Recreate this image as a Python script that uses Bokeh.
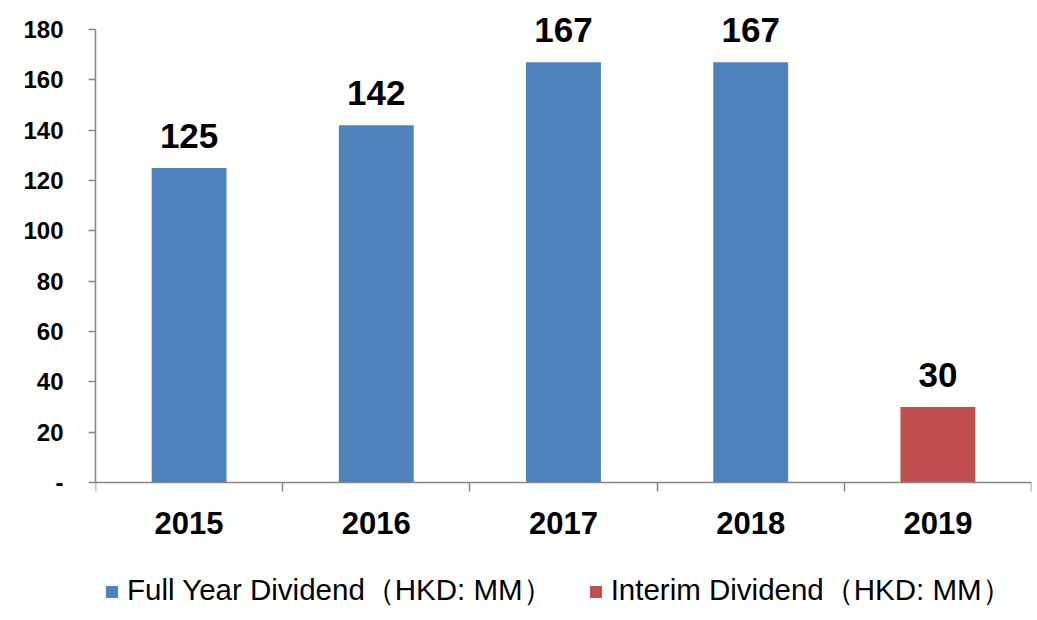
from bokeh.plotting import figure
from bokeh.models import (ColumnDataSource, FixedTicker, LabelSet, Legend, LegendItem, Range1d)
from bokeh.core.properties import value
from bokeh.embed import file_html
from bokeh.resources import INLINE

years = ["2015", "2016", "2017", "2018", "2019"]
full_year_years = ["2015", "2016", "2017", "2018"]
full_year_values = [125, 142, 167, 167]
interim_years = ["2019"]
interim_values = [30]
y_ticks = [0, 20, 40, 60, 80, 100, 120, 140, 160, 180]
legend_labels = ["Full Year Dividend（HKD: MM）", "Interim Dividend（HKD: MM）"]

BLUE = "#4F81BD"
RED = "#C0504D"
AXIS = "#868686"
FONT = "Liberation Sans"

pos = {y: i + 0.5 for i, y in enumerate(years)}

src_full = ColumnDataSource(dict(x=[pos[y] for y in full_year_years], top=full_year_values,
                                 lab=[str(v) for v in full_year_values]))
src_int = ColumnDataSource(dict(x=[pos[y] for y in interim_years], top=interim_values,
                                lab=[str(v) for v in interim_values]))

# frame spans full height; value 0 sits at y=482px, 180 at y=29px
ppu = (482 - 29) / 180.0
p = figure(width=1037, height=620, output_backend="svg", toolbar_location=None,
           x_range=Range1d(0, len(years)),
           y_range=Range1d(-(620 - 482) / ppu, 180 + 29 / ppu),
           min_border_left=95, min_border_right=6, min_border_top=0, min_border_bottom=0)
p.outline_line_color = None
p.grid.visible = False
p.background_fill_color = "white"
p.border_fill_color = "white"

r1 = p.vbar(x="x", top="top", width=0.4, bottom=0, source=src_full, fill_color=BLUE, line_color=None)
r2 = p.vbar(x="x", top="top", width=0.4, bottom=0, source=src_int, fill_color=RED, line_color=None)

for src in (src_full, src_int):
    p.add_layout(LabelSet(x="x", y="top", text="lab", source=src, y_offset=20,
                          text_align="center", text_baseline="alphabetic",
                          text_font=value(FONT), text_font_size=value("35px"),
                          text_font_style=value("bold"), text_color=value("black")))

# x axis at value 0: labels at centers, tick marks at category boundaries
xa = p.xaxis[0]
xa.fixed_location = 0
xa.ticker = FixedTicker(ticks=[pos[y] for y in years], minor_ticks=list(range(len(years) + 1)))
xa.major_label_overrides = {pos[y]: y for y in years}
xa.major_tick_out = 0
xa.major_tick_in = 0
xa.minor_tick_out = 9
xa.minor_tick_in = 0
xa.minor_tick_line_color = AXIS
xa.axis_line_color = AXIS
xa.axis_line_width = 1.5
xa.minor_tick_line_width = 1.5
xa.major_label_standoff = 20
xa.major_label_text_font = FONT
xa.major_label_text_font_size = "31px"
xa.major_label_text_font_style = "bold"
xa.major_label_text_color = "black"

ya = p.yaxis[0]
ya.bounds = (0, 180)
ya.ticker = FixedTicker(ticks=y_ticks, minor_ticks=[])
ya.major_label_overrides = {0: "-"}
ya.major_tick_out = 7
ya.major_tick_in = 0
ya.major_tick_line_color = AXIS
ya.major_tick_line_width = 1.5
ya.minor_tick_out = 0
ya.axis_line_color = AXIS
ya.axis_line_width = 1.5
ya.major_label_standoff = 25
ya.major_label_text_font = FONT
ya.major_label_text_font_size = "24px"
ya.major_label_text_font_style = "bold"
ya.major_label_text_color = "black"

legend = Legend(items=[LegendItem(label=legend_labels[0], renderers=[r1]),
                       LegendItem(label=legend_labels[1], renderers=[r2])],
                orientation="horizontal", location=(9, 9),
                padding=0, margin=0, spacing=35, label_standoff=8,
                glyph_width=15, glyph_height=15, label_height=30,
                border_line_color=None, background_fill_alpha=0,
                label_text_font=FONT, label_text_font_size="29.5px", label_text_color="black")
p.add_layout(legend, "center")

open("out.html", "w").write(file_html(p, INLINE))
